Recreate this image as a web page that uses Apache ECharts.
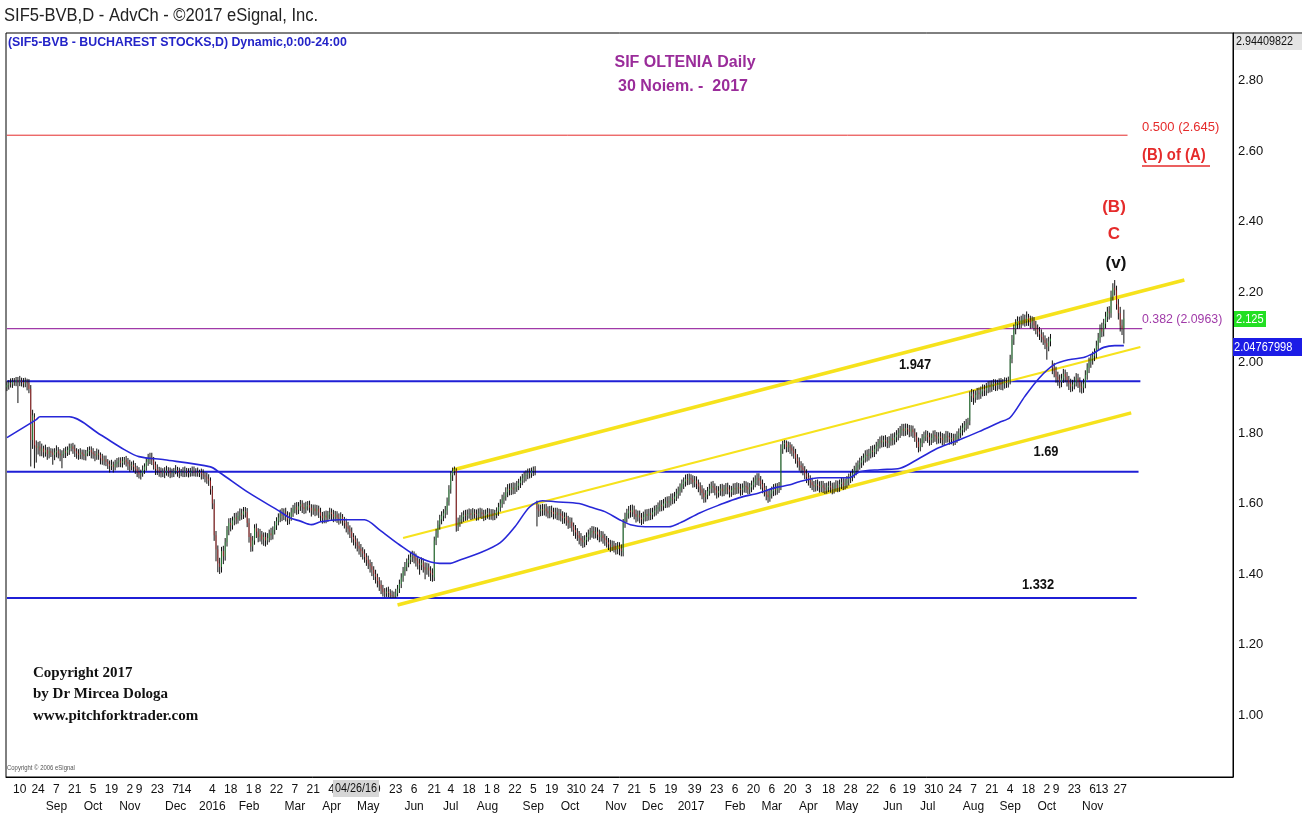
<!DOCTYPE html>
<html>
<head>
<meta charset="utf-8">
<title>SIF OLTENIA Daily</title>
<script src="https://cdn.jsdelivr.net/npm/echarts@6/dist/echarts.min.js"></script>
<style>
html, body { margin: 0; padding: 0; background: #fff; }
#chart { width: 1314px; height: 814px; }
</style>
</head>
<body>
<div id="chart"></div>
<script>
// daily bars, [open, close, low, high] in thousandths of a leu, from 2015-07-30
var ohlc = [
[1930,1936,1919,1947],[1936,1941,1923,1950],[1941,1938,1929,1955],[1938,1946,1928,1956],[1946,1943,1934,1956],[1943,1950,1933,1959],[1950,1944,1885,1959],[1944,1949,1933,1962],[1949,1945,1932,1957],[1945,1940,1929,1956],
[1940,1946,1930,1957],[1946,1941,1921,1954],[1941,1925,1913,1953],[1925,1780,1705,1936],[1780,1850,1755,1866],[1845,1765,1700,1856],[1765,1758,1716,1779],[1758,1762,1739,1775],[1762,1750,1734,1777],[1750,1756,1734,1770],
[1756,1745,1730,1764],[1745,1752,1733,1767],[1752,1740,1724,1760],[1740,1748,1728,1761],[1748,1744,1732,1757],[1744,1738,1710,1756],[1738,1745,1723,1757],[1745,1750,1731,1765],[1750,1742,1728,1760],[1742,1736,1720,1754],
[1736,1740,1700,1751],[1740,1748,1729,1757],[1748,1744,1729,1761],[1744,1752,1735,1762],[1752,1758,1738,1770],[1758,1762,1748,1770],[1762,1755,1741,1772],[1755,1748,1732,1767],[1748,1742,1727,1757],[1742,1738,1724,1754],
[1738,1745,1726,1757],[1745,1740,1725,1753],[1740,1735,1723,1753],[1735,1742,1722,1752],[1742,1748,1734,1760],[1748,1752,1735,1762],[1752,1745,1728,1762],[1745,1740,1727,1757],[1740,1736,1720,1749],[1736,1742,1724,1756],
[1742,1738,1724,1753],[1738,1728,1711,1745],[1728,1722,1710,1741],[1722,1725,1708,1736],[1725,1718,1706,1736],[1718,1712,1698,1726],[1712,1706,1688,1722],[1706,1710,1695,1724],[1710,1704,1688,1719],[1704,1712,1694,1724],
[1712,1718,1702,1729],[1718,1722,1703,1731],[1722,1715,1703,1731],[1715,1720,1702,1732],[1720,1724,1710,1732],[1724,1718,1705,1735],[1718,1712,1695,1729],[1712,1706,1690,1724],[1706,1710,1694,1719],[1710,1704,1690,1722],
[1704,1698,1684,1715],[1698,1690,1675,1707],[1690,1682,1671,1703],[1682,1686,1668,1696],[1686,1695,1676,1708],[1695,1705,1684,1714],[1705,1718,1693,1729],[1718,1728,1707,1741],[1728,1732,1712,1744],[1732,1722,1709,1744],
[1722,1710,1696,1732],[1710,1698,1681,1719],[1698,1694,1681,1711],[1694,1690,1676,1704],[1690,1686,1674,1702],[1686,1692,1675,1700],[1692,1688,1672,1703],[1688,1694,1679,1707],[1694,1690,1676,1703],[1690,1685,1672,1702],
[1685,1688,1674,1699],[1688,1692,1675,1701],[1692,1695,1683,1709],[1695,1690,1676,1704],[1690,1686,1672,1702],[1686,1690,1677,1698],[1690,1688,1675,1703],[1688,1692,1675,1705],[1692,1689,1676,1701],[1689,1686,1674,1700],
[1686,1690,1676,1701],[1690,1693,1677,1705],[1693,1688,1677,1705],[1688,1690,1676,1700],[1690,1686,1676,1702],[1686,1689,1675,1696],[1689,1684,1668,1699],[1684,1680,1669,1697],[1680,1676,1660,1689],[1676,1670,1656,1688],
[1670,1665,1650,1683],[1665,1640,1625,1674],[1640,1600,1584,1650],[1600,1510,1494,1612],[1510,1470,1436,1522],[1470,1430,1405,1481],[1430,1420,1400,1446],[1420,1465,1404,1477],[1465,1450,1428,1480],[1450,1490,1438,1502],
[1490,1525,1478,1536],[1525,1545,1510,1558],[1545,1538,1521,1559],[1538,1552,1526,1563],[1552,1560,1538,1573],[1560,1555,1541,1574],[1555,1565,1543,1578],[1565,1572,1551,1586],[1572,1568,1554,1585],[1568,1578,1556,1590],
[1578,1575,1560,1590],[1575,1545,1533,1587],[1545,1505,1489,1558],[1505,1478,1463,1516],[1478,1495,1464,1508],[1495,1530,1483,1541],[1530,1520,1502,1543],[1520,1505,1490,1530],[1505,1512,1492,1528],[1512,1498,1484,1522],
[1498,1505,1480,1518],[1505,1495,1478,1518],[1495,1502,1483,1516],[1502,1515,1490,1526],[1515,1510,1496,1531],[1510,1525,1498,1535],[1525,1538,1512,1550],[1538,1550,1525,1561],[1550,1560,1538,1572],[1560,1572,1547,1583],
[1572,1565,1550,1587],[1565,1575,1553,1586],[1575,1568,1549,1588],[1568,1555,1539,1578],[1555,1562,1541,1575],[1562,1575,1551,1588],[1575,1585,1562,1596],[1585,1590,1572,1602],[1590,1582,1568,1604],[1582,1592,1570,1604],
[1592,1598,1579,1610],[1598,1590,1573,1609],[1590,1584,1570,1602],[1584,1592,1572,1605],[1592,1596,1580,1607],[1596,1588,1574,1608],[1588,1580,1563,1598],[1580,1586,1568,1597],[1586,1578,1564,1597],[1578,1585,1566,1596],
[1585,1575,1559,1594],[1575,1565,1549,1588],[1565,1558,1543,1576],[1558,1566,1544,1578],[1566,1560,1544,1580],[1560,1568,1548,1579],[1568,1575,1555,1588],[1575,1570,1553,1586],[1570,1562,1547,1582],[1562,1568,1549,1579],
[1568,1560,1545,1578],[1560,1556,1540,1572],[1556,1562,1543,1575],[1562,1550,1537,1570],[1550,1545,1529,1562],[1545,1535,1518,1557],[1535,1528,1512,1548],[1528,1520,1502,1538],[1520,1505,1489,1532],[1505,1498,1481,1516],
[1498,1490,1472,1509],[1490,1480,1464,1501],[1480,1472,1455,1492],[1472,1465,1448,1485],[1465,1458,1441,1476],[1458,1448,1432,1470],[1448,1440,1423,1459],[1440,1430,1414,1452],[1430,1422,1404,1441],[1422,1412,1394,1434],
[1412,1400,1383,1422],[1400,1392,1373,1412],[1392,1380,1362,1401],[1380,1370,1352,1391],[1370,1358,1343,1382],[1358,1348,1336,1369],[1348,1345,1334,1360],[1345,1350,1335,1362],[1350,1346,1334,1364],[1346,1340,1332,1357],
[1340,1338,1332,1353],[1338,1336,1332,1350],[1336,1345,1332,1358],[1345,1358,1336,1369],[1358,1372,1346,1384],[1372,1390,1360,1402],[1390,1408,1378,1420],[1408,1420,1395,1434],[1420,1432,1408,1444],[1432,1440,1419,1455],
[1440,1448,1428,1460],[1448,1452,1434,1466],[1452,1445,1430,1464],[1445,1438,1421,1458],[1438,1430,1413,1450],[1430,1425,1398,1443],[1425,1432,1411,1447],[1432,1420,1404,1444],[1420,1412,1385,1433],[1412,1418,1398,1432],
[1418,1410,1392,1430],[1410,1402,1380,1422],[1402,1398,1378,1416],[1390,1495,1380,1506],[1495,1515,1482,1528],[1515,1540,1503,1552],[1540,1555,1526,1568],[1555,1565,1541,1578],[1565,1572,1550,1584],[1572,1580,1558,1593],
[1580,1605,1568,1617],[1605,1640,1594,1652],[1640,1680,1628,1692],[1680,1692,1664,1702],[1692,1698,1680,1705],[1695,1535,1520,1700],[1535,1548,1522,1560],[1548,1555,1534,1567],[1555,1562,1543,1575],[1562,1568,1548,1580],
[1568,1565,1551,1582],[1565,1570,1552,1583],[1570,1572,1557,1586],[1572,1568,1553,1584],[1568,1574,1555,1587],[1574,1570,1557,1584],[1570,1566,1551,1583],[1566,1572,1552,1586],[1572,1575,1559,1588],[1575,1570,1556,1586],
[1570,1565,1550,1582],[1565,1570,1553,1583],[1570,1574,1557,1587],[1574,1568,1554,1586],[1568,1572,1554,1584],[1572,1566,1552,1584],[1566,1570,1553,1582],[1570,1578,1558,1589],[1578,1590,1565,1602],[1590,1600,1577,1612],
[1600,1612,1588,1625],[1612,1620,1598,1632],[1620,1632,1608,1646],[1632,1642,1618,1655],[1642,1638,1623,1657],[1638,1645,1624,1658],[1645,1640,1626,1660],[1640,1646,1627,1659],[1646,1650,1633,1664],[1650,1658,1638,1670],
[1658,1665,1644,1677],[1665,1672,1652,1684],[1672,1678,1659,1690],[1678,1682,1663,1694],[1682,1688,1669,1699],[1688,1685,1671,1700],[1685,1692,1673,1702],[1692,1696,1678,1705],[1696,1694,1680,1706],[1595,1585,1535,1608],
[1585,1578,1562,1598],[1578,1584,1564,1597],[1584,1580,1565,1599],[1580,1586,1566,1598],[1586,1578,1563,1599],[1578,1572,1558,1592],[1572,1580,1558,1593],[1580,1576,1561,1594],[1576,1570,1555,1588],[1570,1575,1557,1588],
[1575,1568,1553,1588],[1568,1572,1552,1585],[1572,1565,1549,1584],[1565,1558,1542,1578],[1558,1562,1543,1575],[1562,1552,1537,1574],[1552,1545,1528,1565],[1545,1548,1530,1561],[1548,1535,1520,1560],[1535,1525,1508,1546],
[1525,1518,1500,1539],[1518,1510,1494,1530],[1510,1502,1484,1522],[1502,1495,1479,1516],[1495,1490,1474,1508],[1490,1496,1476,1510],[1496,1505,1482,1518],[1505,1512,1492,1526],[1512,1518,1497,1531],[1518,1522,1503,1536],
[1522,1515,1500,1535],[1515,1520,1501,1533],[1520,1512,1496,1532],[1512,1505,1490,1526],[1505,1510,1492,1522],[1510,1502,1486,1521],[1502,1496,1480,1514],[1496,1490,1475,1508],[1490,1484,1468,1502],[1484,1478,1462,1497],
[1478,1482,1465,1495],[1482,1475,1461,1494],[1475,1470,1455,1488],[1470,1478,1456,1491],[1478,1472,1453,1490],[1472,1465,1450,1484],[1462,1545,1450,1556],[1545,1560,1531,1574],[1560,1572,1546,1585],[1572,1580,1557,1593],
[1580,1575,1560,1596],[1575,1582,1562,1597],[1582,1570,1555,1594],[1570,1562,1546,1583],[1562,1568,1549,1580],[1568,1560,1544,1580],[1560,1555,1539,1573],[1555,1562,1542,1577],[1562,1570,1549,1583],[1570,1565,1550,1584],
[1565,1572,1552,1585],[1572,1568,1553,1587],[1568,1575,1555,1588],[1575,1580,1563,1594],[1580,1585,1566,1596],[1585,1590,1571,1603],[1590,1596,1577,1609],[1596,1592,1578,1610],[1592,1600,1580,1613],[1600,1606,1587,1618],
[1606,1602,1588,1620],[1602,1608,1589,1621],[1608,1615,1594,1628],[1615,1612,1598,1629],[1612,1620,1600,1633],[1620,1628,1607,1642],[1628,1635,1614,1648],[1635,1645,1622,1657],[1645,1655,1631,1668],[1655,1662,1641,1674],
[1662,1670,1648,1682],[1670,1666,1652,1684],[1666,1672,1653,1685],[1672,1668,1655,1683],[1668,1660,1645,1680],[1660,1665,1646,1678],[1665,1656,1641,1677],[1656,1648,1632,1668],[1648,1640,1623,1660],[1640,1630,1612,1652],
[1630,1618,1602,1643],[1618,1625,1603,1638],[1625,1635,1612,1647],[1635,1642,1622,1656],[1642,1650,1629,1662],[1650,1645,1630,1664],[1645,1638,1623,1657],[1638,1630,1614,1650],[1630,1636,1617,1649],[1636,1642,1622,1655],
[1642,1635,1620,1656],[1635,1640,1621,1653],[1640,1646,1626,1658],[1646,1640,1626,1659],[1640,1632,1617,1652],[1632,1638,1619,1650],[1638,1644,1624,1657],[1644,1640,1625,1658],[1640,1646,1627,1660],[1646,1642,1628,1658],
[1642,1638,1622,1656],[1638,1645,1624,1657],[1645,1650,1631,1664],[1650,1646,1630,1663],[1646,1640,1626,1660],[1640,1646,1627,1658],[1646,1652,1632,1665],[1652,1660,1639,1674],[1660,1668,1646,1680],[1668,1672,1652,1686],
[1672,1665,1650,1686],[1665,1655,1640,1678],[1655,1645,1629,1668],[1645,1638,1620,1658],[1638,1625,1609,1650],[1625,1618,1602,1637],[1618,1628,1605,1641],[1628,1635,1614,1648],[1635,1642,1621,1655],[1642,1638,1623,1657],
[1638,1645,1625,1658],[1645,1648,1630,1661],[1648,1755,1638,1768],[1755,1768,1741,1778],[1768,1772,1754,1780],[1772,1760,1745,1779],[1760,1766,1746,1776],[1766,1758,1741,1774],[1758,1750,1734,1768],[1750,1742,1727,1762],
[1742,1728,1713,1755],[1728,1720,1702,1740],[1720,1708,1693,1731],[1708,1702,1686,1720],[1702,1695,1680,1714],[1695,1685,1669,1706],[1685,1675,1658,1697],[1675,1668,1651,1687],[1668,1660,1644,1680],[1660,1652,1638,1673],
[1652,1648,1633,1664],[1648,1655,1634,1667],[1655,1650,1636,1668],[1650,1646,1631,1663],[1646,1652,1632,1664],[1652,1645,1630,1664],[1645,1640,1627,1658],[1640,1646,1628,1659],[1646,1650,1632,1663],[1650,1645,1631,1664],
[1645,1641,1626,1659],[1641,1648,1628,1660],[1648,1652,1634,1666],[1652,1646,1632,1665],[1646,1655,1633,1668],[1655,1660,1641,1673],[1660,1652,1638,1672],[1652,1658,1640,1671],[1658,1665,1644,1678],[1665,1672,1651,1685],
[1672,1678,1658,1690],[1678,1685,1663,1698],[1685,1695,1672,1707],[1695,1702,1680,1716],[1702,1710,1688,1722],[1710,1716,1696,1730],[1716,1722,1701,1735],[1722,1730,1708,1742],[1730,1738,1716,1751],[1738,1735,1719,1753],
[1735,1742,1722,1755],[1742,1750,1728,1763],[1750,1746,1731,1765],[1746,1755,1732,1767],[1755,1762,1740,1775],[1762,1770,1748,1783],[1770,1778,1756,1790],[1778,1774,1759,1793],[1774,1780,1760,1792],[1780,1776,1761,1794],
[1776,1772,1757,1789],[1772,1778,1758,1791],[1778,1785,1764,1798],[1785,1780,1765,1799],[1780,1788,1767,1802],[1788,1795,1774,1808],[1795,1800,1779,1814],[1800,1808,1786,1820],[1808,1812,1792,1826],[1812,1806,1791,1826],
[1806,1814,1792,1827],[1814,1810,1795,1826],[1810,1804,1788,1823],[1804,1810,1790,1822],[1810,1802,1786,1821],[1802,1790,1775,1813],[1790,1775,1758,1802],[1775,1760,1745,1787],[1760,1772,1748,1785],[1772,1785,1760,1797],
[1785,1790,1771,1804],[1790,1795,1777,1808],[1795,1788,1772,1806],[1788,1780,1764,1801],[1780,1786,1766,1799],[1786,1795,1772,1807],[1795,1790,1775,1808],[1790,1784,1768,1803],[1784,1790,1770,1802],[1790,1786,1771,1804],
[1786,1780,1765,1800],[1780,1786,1766,1798],[1786,1792,1772,1806],[1792,1788,1773,1805],[1788,1782,1767,1801],[1782,1786,1768,1800],[1786,1780,1764,1798],[1780,1785,1766,1798],[1785,1792,1772,1805],[1792,1800,1778,1813],
[1800,1808,1786,1821],[1808,1815,1793,1828],[1815,1822,1802,1834],[1822,1826,1807,1840],[1826,1830,1812,1843],[1835,1905,1822,1918],[1905,1912,1888,1925],[1912,1900,1880,1922],[1900,1908,1886,1921],[1908,1915,1894,1928],
[1915,1910,1895,1929],[1910,1918,1897,1932],[1918,1925,1904,1938],[1925,1920,1905,1937],[1920,1928,1906,1942],[1928,1935,1913,1947],[1935,1930,1915,1948],[1930,1936,1917,1949],[1936,1940,1922,1953],[1940,1934,1919,1952],
[1934,1938,1920,1951],[1938,1942,1924,1955],[1942,1936,1922,1956],[1936,1940,1921,1953],[1940,1945,1926,1958],[1945,1942,1928,1957],[1942,1946,1929,1960],[1948,2010,1938,2022],[2010,2065,1998,2078],[2065,2095,2050,2108],
[2095,2110,2080,2123],[2110,2118,2095,2131],[2118,2112,2096,2130],[2112,2120,2098,2133],[2120,2125,2105,2138],[2125,2118,2102,2136],[2118,2128,2104,2145],[2128,2120,2104,2138],[2120,2112,2096,2133],[2112,2118,2098,2131],
[2118,2105,2090,2129],[2105,2095,2080,2118],[2095,2088,2073,2108],[2088,2080,2064,2101],[2080,2072,2057,2094],[2072,2065,2050,2086],[2065,2055,2038,2077],[2055,2045,2008,2069],[2045,2060,2032,2073],[2060,2068,2046,2081],
[1995,1985,1967,2006],[1985,1975,1958,1999],[1975,1960,1943,1988],[1960,1952,1934,1974],[1952,1945,1927,1966],[1945,1955,1930,1968],[1955,1968,1942,1982],[1968,1960,1944,1980],[1960,1950,1932,1973],[1950,1940,1922,1962],
[1940,1932,1916,1954],[1932,1938,1918,1951],[1938,1945,1924,1960],[1945,1955,1932,1970],[1955,1945,1928,1968],[1945,1932,1915,1958],[1932,1928,1912,1946],[1928,1940,1914,1954],[1940,1965,1927,1978],[1965,1985,1951,1998],
[1985,2000,1970,2014],[2000,2010,1985,2024],[2010,2018,1994,2031],[2018,2025,2004,2040],[2025,2048,2012,2062],[2048,2070,2034,2084],[2070,2095,2056,2108],[2095,2088,2072,2113],[2088,2110,2074,2124],[2110,2130,2097,2144],
[2130,2145,2115,2158],[2145,2140,2122,2160],[2140,2190,2127,2204],[2190,2212,2176,2225],[2212,2205,2190,2234],[2205,2165,2150,2218],[2165,2140,2122,2180],[2140,2105,2088,2158],[2105,2095,2078,2122],[2095,2125,2054,2150]
];

// moving average: [bar index, value]
var maPoints = [
[0,1.787],[16,1.838],[18,1.846],[34,1.846],[51,1.795],[64,1.753],[72,1.733],[86,1.724],[111,1.704],[116,1.688],
[132,1.630],[149,1.577],[154,1.560],[160,1.550],[166,1.540],[171,1.548],[181,1.554],[195,1.554],[203,1.526],[214,1.483],
[225,1.446],[236,1.430],[241,1.430],[247,1.440],[258,1.460],[269,1.489],[277,1.534],[285,1.590],[292,1.608],[299,1.605],
[312,1.600],[318,1.590],[326,1.577],[334,1.554],[340,1.540],[348,1.534],[361,1.534],[367,1.545],[378,1.574],[389,1.597],
[399,1.616],[410,1.630],[419,1.645],[427,1.653],[432,1.662],[443,1.673],[459,1.673],[465,1.690],[476,1.696],[487,1.700],
[498,1.730],[508,1.758],[519,1.780],[530,1.804],[541,1.830],[547,1.844],[555,1.904],[563,1.957],[571,1.994],[579,2.008],
[587,2.014],[593,2.028],[598,2.043],[604,2.048],[609,2.048]
];

// horizontal levels: value, last bar index, colour, width
var levels = [
[2.645, 611, '#e52b2b', 1],
[2.0963, 619, '#a03aa8', 1.2],
[1.947, 618, '#1f1fd6', 2],
[1.69, 617, '#1f1fd6', 2],
[1.332, 616, '#1f1fd6', 2]
];

// pitchfork: [start bar, start value, end bar, end value, width]
var forkLines = [
[243, 1.695, 642, 2.234, 3.5],
[216, 1.502, 618, 2.044, 2.2],
[213, 1.312, 613, 1.857, 3.5]
];

// axis tick labels: date, day text, month text
var tickLabels = [
['2015-08-10','10',''],['2015-08-24','24',''],['2015-09-07','7','Sep'],['2015-09-21','21',''],['2015-10-05','5','Oct'],
['2015-10-19','19',''],['2015-11-02','2','Nov'],['2015-11-09','9',''],['2015-11-23','23',''],['2015-12-07','7','Dec'],
['2015-12-14','14',''],['2016-01-04','4','2016'],['2016-01-18','18',''],['2016-02-01','1','Feb'],['2016-02-08','8',''],
['2016-02-22','22',''],['2016-03-07','7','Mar'],['2016-03-21','21',''],['2016-04-04','4','Apr'],['2016-04-18','18',''],
['2016-05-02','2','May'],['2016-05-09','9',''],['2016-05-23','23',''],['2016-06-06','6','Jun'],['2016-06-21','21',''],
['2016-07-04','4','Jul'],['2016-07-18','18',''],['2016-08-01','1','Aug'],['2016-08-08','8',''],['2016-08-22','22',''],
['2016-09-05','5','Sep'],['2016-09-19','19',''],['2016-10-03','3','Oct'],['2016-10-10','10',''],['2016-10-24','24',''],
['2016-11-07','7','Nov'],['2016-11-21','21',''],['2016-12-05','5','Dec'],['2016-12-19','19',''],['2017-01-03','3','2017'],
['2017-01-09','9',''],['2017-01-23','23',''],['2017-02-06','6','Feb'],['2017-02-20','20',''],['2017-03-06','6','Mar'],
['2017-03-20','20',''],['2017-04-03','3','Apr'],['2017-04-18','18',''],['2017-05-02','2','May'],['2017-05-08','8',''],
['2017-05-22','22',''],['2017-06-06','6','Jun'],['2017-06-19','19',''],['2017-07-03','3','Jul'],['2017-07-10','10',''],
['2017-07-24','24',''],['2017-08-07','7','Aug'],['2017-08-21','21',''],['2017-09-04','4','Sep'],['2017-09-18','18',''],
['2017-10-02','2','Oct'],['2017-10-09','9',''],['2017-10-23','23',''],['2017-11-06','6','Nov'],['2017-11-13','13',''],
['2017-11-27','27','']
];

var priceTicks = [1.00, 1.20, 1.40, 1.60, 1.80, 2.00, 2.20, 2.40, 2.60, 2.80];

// weekday calendar, with empty days after the last bar
var totalDays = 669;
function buildDates() {
    var out = [];
    var d = new Date(Date.UTC(2015, 6, 30));
    while (out.length < totalDays) {
        var wd = d.getUTCDay();
        if (wd !== 0 && wd !== 6) out.push(d.toISOString().slice(0, 10));
        d.setUTCDate(d.getUTCDate() + 1);
    }
    return out;
}
var dates = buildDates();

var tickMap = {};
tickLabels.forEach(function (t) { tickMap[t[0]] = t; });

var sans = '"Liberation Sans", Arial, sans-serif';
var serif = '"Liberation Serif", "Times New Roman", serif';

// text helper, squeezed a bit to look like the narrow eSignal font
function label(x, y, text, font, fill, align, sx) {
    return {
        type: 'text', x: x, y: y, z: 60, scaleX: sx || 1,
        style: { text: text, font: font, fill: fill, align: align || 'left', verticalAlign: 'middle' }
    };
}

var myChart;
function initChart() {
    var chartDom = document.getElementById('chart');
    myChart = echarts.init(chartDom);

    var candles = ohlc.map(function (r) {
        return [r[0] / 1000, r[1] / 1000, r[2] / 1000, r[3] / 1000];
    });
    // bodies only, drawn over the black bars
    var bodies = ohlc.map(function (r) {
        var lo = Math.min(r[0], r[1]), hi = Math.max(r[0], r[1]);
        return [r[0] / 1000, r[1] / 1000, lo / 1000, hi / 1000];
    });

    var series = [];
    levels.forEach(function (l) {
        series.push({
            type: 'line',
            data: [[0, l[0]], [l[1], l[0]]],
            symbol: 'none',
            silent: true,
            z: 1,
            lineStyle: { color: l[2], width: l[3] }
        });
    });
    forkLines.forEach(function (f) {
        series.push({
            type: 'line',
            data: [[f[0], f[1]], [f[2], f[3]]],
            symbol: 'none',
            silent: true,
            z: 1,
            lineStyle: { color: '#f6e21c', width: f[4] }
        });
    });
    series.push({
        type: 'candlestick',
        data: candles,
        barWidth: 3.2,
        z: 3,
        silent: true,
        itemStyle: {
            color: '#111', color0: '#111',
            borderColor: '#111', borderColor0: '#111',
            borderWidth: 1
        }
    });
    series.push({
        type: 'candlestick',
        data: bodies,
        barWidth: 1.8,
        z: 4,
        silent: true,
        itemStyle: {
            color: '#2fb845', color0: '#dd2424',
            borderColor: '#2fb845', borderColor0: '#dd2424',
            borderWidth: 0.6
        }
    });
    series.push({
        type: 'line',
        data: maPoints,
        symbol: 'none',
        smooth: 0.3,
        silent: true,
        z: 5,
        lineStyle: { color: '#2727d8', width: 1.6 }
    });

    var option = {
        animation: false,
        backgroundColor: '#fff',
        grid: {
            left: 6, right: 81, top: 33, bottom: 37,
            show: true, borderColor: '#000', borderWidth: 1
        },
        xAxis: {
            type: 'category',
            data: dates,
            boundaryGap: true,
            axisLine: { show: true, lineStyle: { color: '#000', width: 1 } },
            axisTick: { show: false },
            splitLine: { show: false },
            axisLabel: {
                margin: 4,
                interval: function (i, v) { return tickMap.hasOwnProperty(v); },
                formatter: function (v) {
                    var t = tickMap[v];
                    if (!t) return '';
                    return t[2] ? '{d|' + t[1] + '}\n{m|' + t[2] + '}' : '{d|' + t[1] + '}';
                },
                rich: {
                    d: { fontFamily: sans, fontSize: 12, color: '#111', lineHeight: 17 },
                    m: { fontFamily: sans, fontSize: 12, color: '#111', lineHeight: 17 }
                }
            }
        },
        yAxis: {
            type: 'value',
            position: 'right',
            min: 0.824,
            max: 2.935,
            axisLine: { show: true, lineStyle: { color: '#000', width: 1 } },
            axisTick: { show: false },
            splitLine: { show: false },
            axisLabel: {
                customValues: priceTicks,
                formatter: function (v) { return v.toFixed(2); },
                margin: 5,
                fontFamily: sans,
                fontSize: 13,
                color: '#111'
            }
        },
        series: series,
        graphic: [
            { type: 'line', shape: { x1: 1233, y1: 33, x2: 1302, y2: 33 }, style: { stroke: '#000', lineWidth: 1 } },
            label(4, 16, 'SIF5-BVB,D - AdvCh - ©2017 eSignal, Inc.', '18px ' + sans, '#222', 'left', 0.92),
            label(8, 42, '(SIF5-BVB - BUCHAREST STOCKS,D) Dynamic,0:00-24:00', 'bold 13px ' + sans, '#2424c8', 'left', 0.95),
            label(685, 63, 'SIF OLTENIA Daily', 'bold 16px ' + sans, '#9a2c9a', 'center'),
            label(683, 87, '30 Noiem. -  2017', 'bold 16px ' + sans, '#9a2c9a', 'center'),
            label(1142, 127, '0.500 (2.645)', '13px ' + sans, '#e52b2b'),
            label(1142, 156, '(B) of (A)', 'bold 16px ' + sans, '#e52b2b', 'left', 0.93),
            { type: 'line', z: 60, shape: { x1: 1142, y1: 166, x2: 1210, y2: 166 }, style: { stroke: '#e52b2b', lineWidth: 1.3 } },
            label(1114, 207, '(B)', 'bold 17px ' + sans, '#e52b2b', 'center'),
            label(1114, 234, 'C', 'bold 17px ' + sans, '#e52b2b', 'center'),
            label(1116, 263, '(v)', 'bold 17px ' + sans, '#111', 'center'),
            label(1142, 319, '0.382 (2.0963)', '13px ' + sans, '#a03aa8', 'left', 0.95),
            label(915, 365, '1.947', 'bold 14px ' + sans, '#111', 'center', 0.92),
            label(1046, 452, '1.69', 'bold 14px ' + sans, '#111', 'center', 0.92),
            label(1038, 585, '1.332', 'bold 14px ' + sans, '#111', 'center', 0.92),
            label(33, 673, 'Copyright 2017', 'bold 15px ' + serif, '#111'),
            label(33, 694, 'by Dr Mircea Dologa', 'bold 15px ' + serif, '#111'),
            label(33, 716, 'www.pitchforktrader.com', 'bold 15px ' + serif, '#111'),
            label(7, 768, 'Copyright © 2006 eSignal', '7px ' + sans, '#555', 'left', 0.85),
            { type: 'rect', z: 50, shape: { x: 333, y: 780, width: 46, height: 17 }, style: { fill: '#d6d6d6' } },
            label(356, 789, '04/26/16', '12px ' + sans, '#111', 'center', 0.9),
            { type: 'rect', z: 50, shape: { x: 1234, y: 34, width: 68, height: 16 }, style: { fill: '#e4e4e4' } },
            label(1236, 42, '2.94409822', '12px ' + sans, '#111', 'left', 0.9),
            { type: 'rect', z: 50, shape: { x: 1234, y: 311, width: 32, height: 16 }, style: { fill: '#22df22' } },
            label(1236, 319, '2.125', '13px ' + sans, '#fff', 'left', 0.85),
            { type: 'rect', z: 50, shape: { x: 1233, y: 338, width: 69, height: 18 }, style: { fill: '#1c1ce6' } },
            label(1234, 347, '2.04767998', '13px ' + sans, '#fff', 'left', 0.85)
        ]
    };

    option && myChart.setOption(option);
}

document.addEventListener('DOMContentLoaded', function () {
    initChart();
});

window.addEventListener('resize', function () {
    myChart.resize();
});
</script>
</body>
</html>
